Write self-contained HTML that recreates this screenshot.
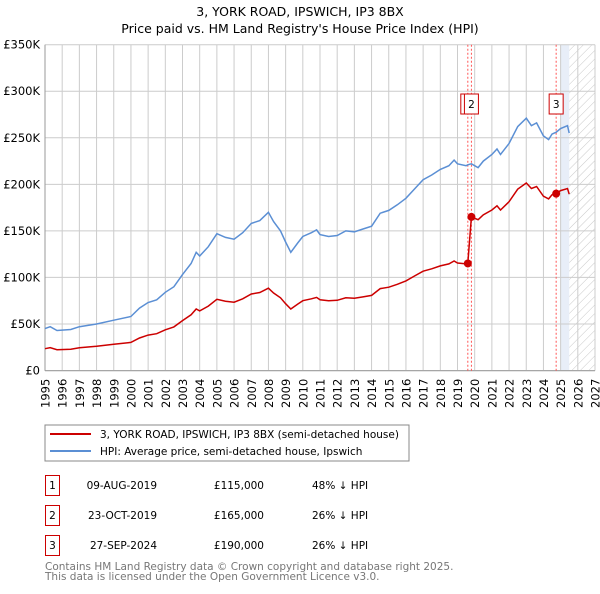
<!DOCTYPE html>
<html><head><meta charset="utf-8"><style>
body{margin:0;background:#fff;font-family:"DejaVu Sans","Liberation Sans",sans-serif;}
svg text{font-family:"DejaVu Sans","Liberation Sans",sans-serif;}
</style></head><body>
<svg id="s" width="600" height="590" xmlns="http://www.w3.org/2000/svg">
<defs><pattern id="h" width="6" height="6" patternUnits="userSpaceOnUse" patternTransform="rotate(45)"><line x1="0" y1="0" x2="0" y2="6" stroke="#bbb" stroke-width="0.8"/></pattern></defs>
<text x="300" y="16" font-size="12.5" text-anchor="middle">3, YORK ROAD, IPSWICH, IP3 8BX</text>
<text x="300" y="33" font-size="12.5" text-anchor="middle">Price paid vs. HM Land Registry's House Price Index (HPI)</text>
<g id="g"></g>
<rect x="45" y="425" width="364" height="36" fill="#fff" stroke="#888"/>
<line x1="50" y1="434" x2="91" y2="434" stroke="#cc0000" stroke-width="2"/>
<text x="100" y="438" font-size="10.5">3, YORK ROAD, IPSWICH, IP3 8BX (semi-detached house)</text>
<line x1="50" y1="451" x2="91" y2="451" stroke="#5b8fd4" stroke-width="2"/>
<text x="100" y="455" font-size="10.5">HPI: Average price, semi-detached house, Ipswich</text>
<g font-size="10.5">
<rect x="45.5" y="475.5" width="14" height="20" fill="#fff" stroke="#cc0000"/><text x="52.5" y="489" text-anchor="middle">1</text>
<text x="157" y="489" text-anchor="end">09-AUG-2019</text><text x="264" y="489" text-anchor="end">£115,000</text><text x="312" y="489">48% ↓ HPI</text>
<rect x="45.5" y="505.5" width="14" height="20" fill="#fff" stroke="#cc0000"/><text x="52.5" y="519" text-anchor="middle">2</text>
<text x="157" y="519" text-anchor="end">23-OCT-2019</text><text x="264" y="519" text-anchor="end">£165,000</text><text x="312" y="519">26% ↓ HPI</text>
<rect x="45.5" y="535.5" width="14" height="20" fill="#fff" stroke="#cc0000"/><text x="52.5" y="549" text-anchor="middle">3</text>
<text x="157" y="549" text-anchor="end">27-SEP-2024</text><text x="264" y="549" text-anchor="end">£190,000</text><text x="312" y="549">26% ↓ HPI</text>
</g>
<text x="45" y="570" font-size="10.5" fill="#777">Contains HM Land Registry data © Crown copyright and database right 2025.</text>
<text x="45" y="580" font-size="10.5" fill="#777">This data is licensed under the Open Government Licence v3.0.</text>
</svg>
<script>
var X=function(y){return 45+(y-1995)*550/32;},Y=function(k){return 370.5-k*325.8/350;};
var o='';
o+='<rect x="'+X(2025)+'" y="44.7" width="'+(X(2025.5)-X(2025))+'" height="326" fill="#e8eef8"/>';
o+='<rect x="'+X(2025.5)+'" y="44.7" width="'+(595-X(2025.5))+'" height="326" fill="url(#h)"/>';
for(var y=1995;y<=2027;y++){var x=X(y);o+='<line x1="'+x+'" y1="44.7" x2="'+x+'" y2="370.7" stroke="#ccc"/>';
o+='<text transform="translate('+(x+4.5)+',408) rotate(-90)" font-size="11.5">'+y+'</text>';}
for(var k=0;k<=350;k+=50){var yy=Y(k);o+='<line x1="45" y1="'+yy+'" x2="595" y2="'+yy+'" stroke="#ccc"/>';
o+='<text x="40" y="'+(yy+4)+'" font-size="11.5" text-anchor="end">'+(k?'£'+k+'K':'£0')+'</text>';}
o+='<line x1="45" y1="370.7" x2="595" y2="370.7" stroke="#999"/><line x1="45" y1="44.7" x2="45" y2="370.7" stroke="#999"/>';
var d=[[1995,45],[1995.3,47],[1995.7,43],[1996.5,44],[1997,47],[1998,50],[1999,54],[2000,58],[2000.5,67],[2001,73],[2001.5,76],[2002,84],[2002.5,90],[2003,103],[2003.5,115],[2003.8,127],[2004,123],[2004.5,133],[2005,147],[2005.5,143],[2006,141],[2006.5,148],[2007,158],[2007.5,161],[2008,170],[2008.3,160],[2008.7,150],[2009,138],[2009.3,127],[2009.7,137],[2010,144],[2010.5,148],[2010.8,151],[2011,146],[2011.5,144],[2012,145],[2012.5,150],[2013,149],[2013.5,152],[2014,155],[2014.5,169],[2015,172],[2015.5,178],[2016,185],[2016.5,195],[2017,205],[2017.5,210],[2018,216],[2018.5,220],[2018.8,226],[2019,222],[2019.5,220],[2019.6,221],[2019.81,222],[2020.2,218],[2020.5,225],[2021,232],[2021.3,238],[2021.5,232],[2022,244],[2022.5,262],[2023,271],[2023.3,263],[2023.6,266],[2024,252],[2024.3,248],[2024.5,254],[2024.74,256],[2025,260],[2025.4,263],[2025.5,255]];
var hp='',rp='';
d.forEach(function(p,i){var c=i?'L':'M';hp+=c+X(p[0]).toFixed(1)+' '+Y(p[1]).toFixed(1);
var r=p[0]<2019.7?p[1]*115/221:p[1]*165/222;rp+=c+X(p[0]).toFixed(1)+' '+Y(r).toFixed(1);});
[[2019.6],[2019.81],[2024.74]].forEach(function(p){var x=X(p[0]);o+='<line x1="'+x+'" y1="44.7" x2="'+x+'" y2="370.7" stroke="#f55" stroke-dasharray="2,2"/>';});
o+='<path d="'+hp+'" fill="none" stroke="#5b8fd4" stroke-width="1.5"/>';
o+='<path d="'+rp+'" fill="none" stroke="#cc0000" stroke-width="1.5"/>';
[[2019.6,115],[2019.81,165],[2024.74,190]].forEach(function(p){o+='<circle cx="'+X(p[0])+'" cy="'+Y(p[1])+'" r="4" fill="#cc0000"/>';});
o+='<rect x="'+(X(2019.6)-7)+'" y="94" width="14" height="20" fill="#fff" stroke="#cc0000"/>';
o+='<rect x="'+(X(2019.81)-7)+'" y="94" width="14" height="20" fill="#fff" stroke="#cc0000"/><text x="'+X(2019.81)+'" y="108" font-size="10.5" text-anchor="middle">2</text>';
o+='<rect x="'+(X(2024.74)-7)+'" y="94" width="14" height="20" fill="#fff" stroke="#cc0000"/><text x="'+X(2024.74)+'" y="108" font-size="10.5" text-anchor="middle">3</text>';
document.getElementById('g').innerHTML=o;
</script>
</body></html>
